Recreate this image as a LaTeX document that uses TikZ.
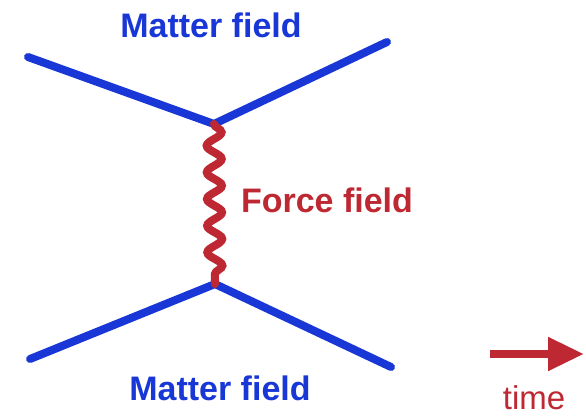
\documentclass[tikz,border=0pt]{standalone}
\usepackage{fontspec}
\setmainfont{Liberation Sans}
\usetikzlibrary{decorations.pathmorphing,arrows.meta}
\definecolor{matterblue}{RGB}{25,55,215}
\definecolor{forcered}{RGB}{190,40,50}
\tikzset{
  matter/.style={matterblue,line width=8pt,line cap=round},
  force/.style={forcered,line width=8pt,line cap=round,decorate,
    decoration={snake,segment length=26.67pt,amplitude=7.5pt}},
  label/.style={inner sep=0pt,font=\fontsize{34}{38}\selectfont\bfseries}
}
\begin{document}
\begin{tikzpicture}[x=1pt,y=-1pt]
\path[use as bounding box] (0,0) rectangle (586,417);
\fill[white] (0,0) rectangle (586,417);
\coordinate (tl) at (28,57);
\coordinate (tr) at (387,42);
\coordinate (vt) at (214,124);
\coordinate (vb) at (215,284);
\coordinate (bl) at (30,359);
\coordinate (br) at (391,367);
\draw[matter] (tl) -- (vt) -- (tr);
\draw[matter] (bl) -- (vb) -- (br);
\draw[force] (vt) -- (vb);
\node[label,matterblue] (mtop) at (211,25) {Matter field};
\node[label,matterblue] (mbot) at (220,388) {Matter field};
\node[label,forcered] (ffield) at (327,200) {Force field};
\coordinate (tstart) at (490,354);
\coordinate (tend) at (584,354);
\draw[forcered,line width=8pt,-{Triangle[length=36pt,width=32pt]}] (tstart) -- (tend);
\node[inner sep=0pt,forcered,font=\fontsize{33}{36}\selectfont] (time) at (534,398) {time};
\end{tikzpicture}
\end{document}
